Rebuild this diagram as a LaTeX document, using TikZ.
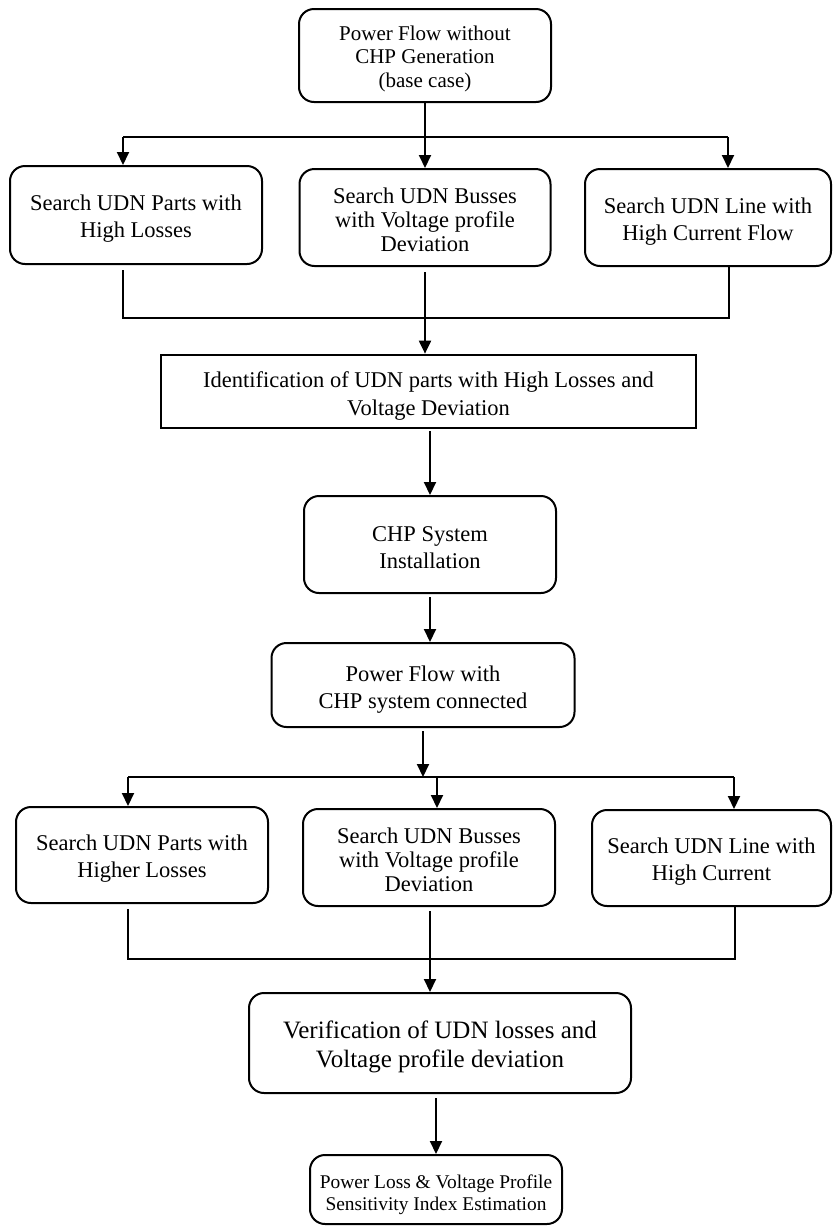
\documentclass[tikz,border=0pt]{standalone}
\usepackage{fontspec}
\setmainfont{Liberation Serif}
\usetikzlibrary{arrows.meta}
\begin{document}
\begin{tikzpicture}[x=1pt,y=-1pt,
  box/.style={draw, line width=2pt, rounded corners=15pt, inner sep=0pt},
  plainbox/.style={draw, line width=2.7pt, inner sep=0pt},
  txt/.style={align=center, inner sep=0pt, font=\fontsize{22.5}{27}\selectfont},
  link/.style={line width=2pt},
  arr/.style={link, -{Triangle[width=12pt,length=13pt]}},
]
\useasboundingbox (0,0) rectangle (833,1227);

% base-case power flow
\node[box, minimum width=252pt, minimum height=93pt] (top) at (425,55.5) {};
\node[txt, font=\fontsize{21}{23.5}\selectfont] (topt) at ([yshift=-3pt]top.center)
  {Power Flow without\\CHP Generation\\(base case)};

% first search stage
\node[box, minimum width=252pt, minimum height=98pt] (b1) at (136,215) {};
\node[txt] (b1t) at ([yshift=-4pt]b1.center) {Search UDN Parts with\\High Losses};
\node[box, minimum width=251pt, minimum height=97pt] (b2) at (425,217.5) {};
\node[txt, font=\fontsize{22.5}{24}\selectfont] (b2t) at ([yshift=-2pt]b2.center)
  {Search UDN Busses\\with Voltage profile\\Deviation};
\node[box, minimum width=246pt, minimum height=97pt] (b3) at (708,217.5) {};
\node[txt] (b3t) at ([yshift=-4pt]b3.center) {Search UDN Line with\\High Current Flow};

% identification
\node[plainbox, minimum width=535pt, minimum height=73pt] (b4) at (428.5,391.5) {};
\node[txt, font=\fontsize{22.5}{28}\selectfont] (b4t) at ([yshift=-4pt]b4.center)
  {Identification of UDN parts with High Losses and\\Voltage Deviation};

% installation and new power flow
\node[box, minimum width=252pt, minimum height=97pt] (inst) at (430,544.5) {};
\node[txt] (instt) at ([yshift=-3pt]inst.center) {CHP System\\Installation};
\node[box, minimum width=303pt, minimum height=84pt] (pf) at (423,685) {};
\node[txt] (pft) at ([yshift=-5pt]pf.center) {Power Flow with\\CHP system connected};

% second search stage
\node[box, minimum width=252pt, minimum height=96pt] (c1) at (142,855) {};
\node[txt] (c1t) at ([yshift=-4pt]c1.center) {Search UDN Parts with\\Higher Losses};
\node[box, minimum width=252pt, minimum height=97pt] (c2) at (429,857.5) {};
\node[txt, font=\fontsize{22.5}{24}\selectfont] (c2t) at ([yshift=-2pt]c2.center)
  {Search UDN Busses\\with Voltage profile\\Deviation};
\node[box, minimum width=239pt, minimum height=96pt] (c3) at (711.5,858) {};
\node[txt] (c3t) at ([yshift=-4pt]c3.center) {Search UDN Line with\\High Current};

% verification and index estimation
\node[box, minimum width=382pt, minimum height=100pt] (ver) at (440,1043) {};
\node[txt, font=\fontsize{25}{29.5}\selectfont] (vert) at ([yshift=-4pt]ver.center)
  {Verification of UDN losses and\\Voltage profile deviation};
\node[box, minimum width=252pt, minimum height=69pt] (pl) at (436,1189.5) {};
\node[txt, font=\fontsize{19.4}{22}\selectfont] (plt) at ([yshift=-5pt]pl.center)
  {Power Loss \& Voltage Profile\\Sensitivity Index Estimation};

% bus bars
\coordinate (bar1L) at (123,137);
\coordinate (bar1R) at (728,137);
\coordinate (bar2L) at (123,318);
\coordinate (bar2R) at (729,318);
\coordinate (bar3L) at (128,777);
\coordinate (bar3M) at (437,777);
\coordinate (bar3R) at (734,777);
\coordinate (bar4L) at (128,959);
\coordinate (bar4R) at (735,959);
\coordinate (drop4) at (430,959);

% fan-out to the first searches
\draw[link] (bar1L) -- (bar1R);
\draw[arr] (top.south) -- (b2.north);
\draw[arr] (bar1L) -- (bar1L |- b1.north);
\draw[arr] (bar1R) -- (bar1R |- b3.north);

% collection into identification
\draw[link, shorten <=5pt] (b1.south -| bar2L) -- (bar2L) -- (bar2R) -- (b3.south -| bar2R);
\draw[arr, shorten <=5pt] (b2.south) -- (b2.south |- b4.north);

\draw[arr, shorten <=2pt] (b4.south -| inst.north) -- (inst.north);
\draw[arr, shorten <=3pt] (inst.south) -- (inst.south |- pf.north);

% fan-out to the second searches
\draw[link] (bar3L) -- (bar3R);
\draw[arr, shorten <=3pt] (pf.south) -- (pf.south |- bar3L);
\draw[arr] (bar3L) -- (bar3L |- c1.north);
\draw[arr] (bar3M) -- (bar3M |- c2.north);
\draw[arr] (bar3R) -- (bar3R |- c3.north);

% collection into verification
\draw[link, shorten <=5pt] (c1.south -| bar4L) -- (bar4L) -- (bar4R) -- (c3.south -| bar4R);
\draw[arr, shorten <=4pt] (c2.south -| drop4) -- (ver.north -| drop4);

\draw[arr, shorten <=4pt] (ver.south -| pl.north) -- (pl.north);
\end{tikzpicture}
\end{document}
